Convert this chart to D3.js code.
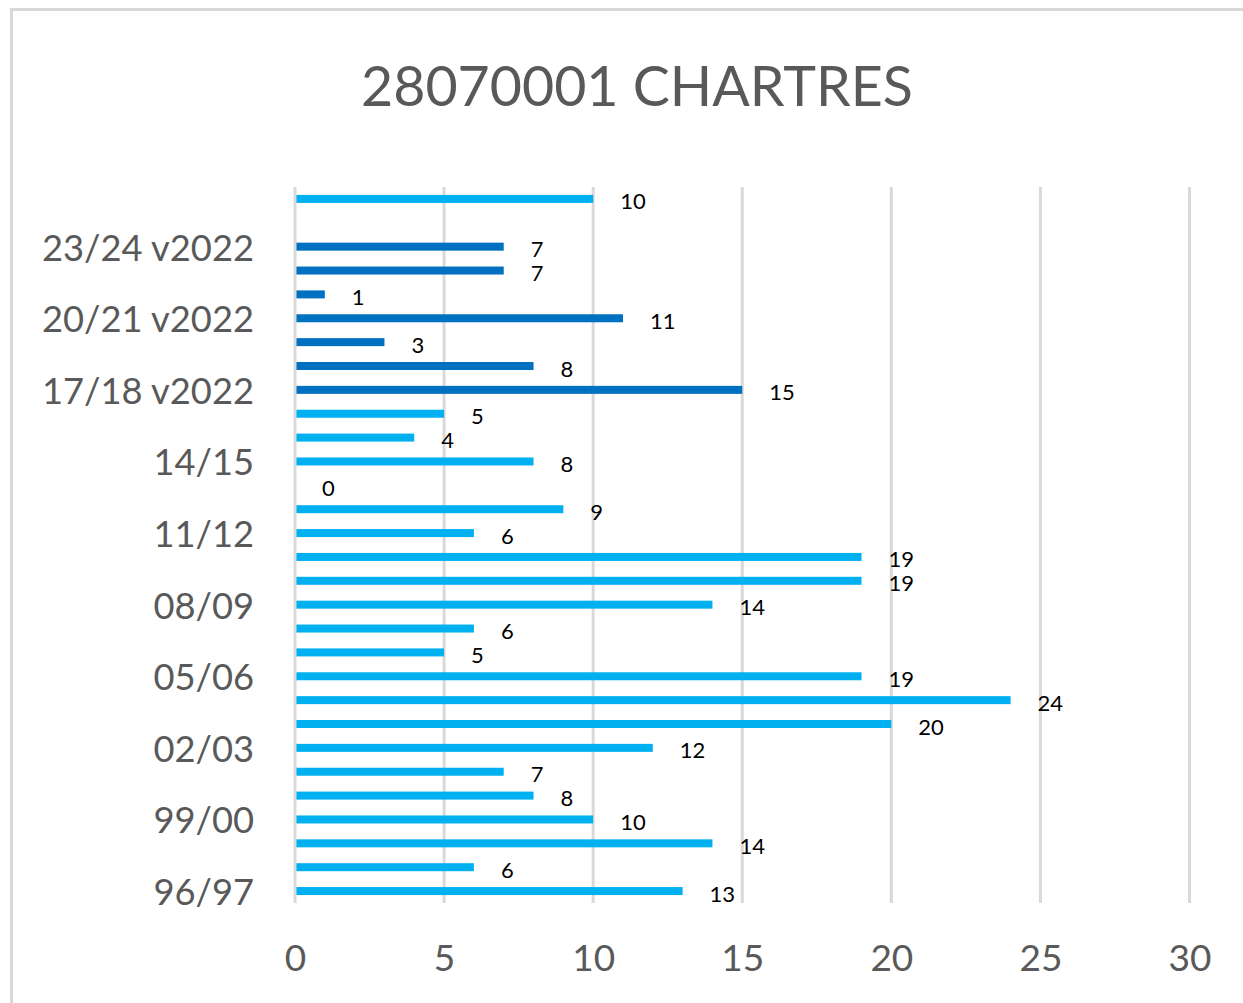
<!DOCTYPE html>
<html>
<head>
<meta charset="utf-8">
<script src="https://cdn.jsdelivr.net/npm/d3@7"></script>
<style>
  html, body { margin: 0; padding: 0; background: #ffffff; }
  svg { display: block; }
  text { font-family: Lato, "Open Sans", sans-serif; }
</style>
</head>
<body>
<svg id="chart" width="1243" height="1003"></svg>
<script>
// ---- data (bottom to top) ----
const categories = [
  "96/97", "97/98", "98/99", "99/00", "00/01", "01/02", "02/03", "03/04", "04/05",
  "05/06", "06/07", "07/08", "08/09", "09/10", "10/11", "11/12", "12/13", "13/14",
  "14/15", "15/16", "16/17", "17/18 v2022", "18/19 v2022", "19/20 v2022",
  "20/21 v2022", "21/22 v2022", "22/23 v2022", "23/24 v2022", " ", "Moyenne"
];
const values = [
  13, 6, 14, 10, 8, 7, 12, 20, 24,
  19, 5, 6, 14, 19, 19, 6, 9, 0,
  8, 4, 5, 15, 8, 3,
  11, 1, 7, 7, null, 10
];
const xTicks = [0, 5, 10, 15, 20, 25, 30];
const title = "28070001 CHARTRES";

// ---- layout ----
const plot = { left: 295, right: 1189.5, top: 187, bottom: 903 };
const lightBlue = "#00B0F0", darkBlue = "#0070C0";
const grey = "#595959", gridColor = "#D9D9D9";

const svg = d3.select("#chart");

// outer chart border (cropped at right/bottom)
svg.append("rect")
  .attr("x", 11.5).attr("y", 9.5)
  .attr("width", 1300).attr("height", 1100)
  .attr("fill", "#fff")
  .attr("stroke", gridColor).attr("stroke-width", 3);

// title
svg.append("text")
  .attr("x", 637).attr("y", 106)
  .attr("text-anchor", "middle")
  .attr("fill", grey)
  .attr("font-size", 55.5)
  .text(title);

const x = d3.scaleLinear().domain([0, 30]).range([plot.left, plot.right]);
const y = d3.scaleBand()
  .domain(categories.slice().reverse())
  .range([plot.top, plot.bottom])
  .paddingInner(0.665).paddingOuter(0.3325);

const data = categories.map((c, i) => ({ cat: c, value: values[i] }))
  .filter(d => d.value !== null);

// gridlines (excluding zero, drawn later on top)
svg.append("g")
  .selectAll("line")
  .data(xTicks.filter(t => t !== 0))
  .join("line")
  .attr("x1", d => x(d)).attr("x2", d => x(d))
  .attr("y1", plot.top).attr("y2", plot.bottom)
  .attr("stroke", gridColor).attr("stroke-width", 3);

// bars
svg.append("g")
  .selectAll("rect")
  .data(data)
  .join("rect")
  .attr("x", x(0))
  .attr("y", d => y(d.cat))
  .attr("width", d => x(d.value) - x(0))
  .attr("height", y.bandwidth())
  .attr("fill", d => d.cat.includes("v2022") ? darkBlue : lightBlue);

// zero axis line
svg.append("line")
  .attr("x1", x(0)).attr("x2", x(0))
  .attr("y1", plot.top).attr("y2", plot.bottom)
  .attr("stroke", gridColor).attr("stroke-width", 3);

// value labels
svg.append("g")
  .selectAll("text")
  .data(data)
  .join("text")
  .attr("x", d => x(d.value) + 27)
  .attr("y", d => y(d.cat) + y.bandwidth() / 2 + 2)
  .attr("dominant-baseline", "central")
  .attr("fill", "#000")
  .attr("font-size", 22)
  .text(d => d.value);

// x axis
const xAxis = d3.axisBottom(x).tickValues(xTicks).tickSize(0).tickPadding(0);
const gx = svg.append("g")
  .attr("transform", `translate(0,${plot.bottom})`)
  .call(xAxis);
gx.select(".domain").remove();
gx.selectAll("text")
  .attr("y", 53)
  .attr("dy", null)
  .attr("dominant-baseline", "central")
  .attr("fill", grey)
  .attr("font-size", 37)
  .attr("font-family", "Lato, sans-serif");

// y axis (every third category label)
const yAxis = d3.axisLeft(y)
  .tickValues(categories.filter((c, i) => i % 3 === 0))
  .tickSize(0).tickPadding(0);
const gy = svg.append("g")
  .attr("transform", `translate(254,0)`)
  .call(yAxis);
gy.select(".domain").remove();
gy.selectAll("text")
  .attr("x", 0)
  .attr("dy", null)
  .attr("dominant-baseline", "central")
  .attr("fill", grey)
  .attr("font-size", 36.3)
  .attr("font-family", "Lato, sans-serif");
</script>
</body>
</html>
